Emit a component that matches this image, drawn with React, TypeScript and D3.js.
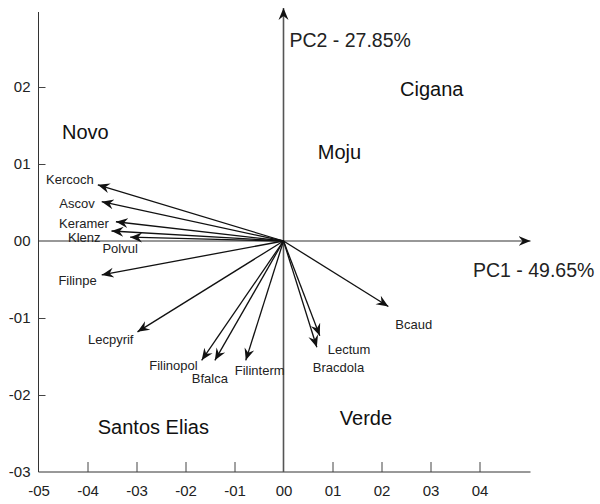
import { select, scaleLinear, axisBottom, axisLeft } from "d3";
import React, { useEffect, useRef } from "react";

const variables = [
  "Kercoch",
  "Ascov",
  "Keramer",
  "Klenz",
  "Polvul",
  "Filinpe",
  "Lecpyrif",
  "Filinopol",
  "Bfalca",
  "Filinterm",
  "Lectum",
  "Bracdola",
  "Bcaud",
];
const pc1Loadings = [-0.379, -0.371, -0.342, -0.351, -0.313, -0.371, -0.298, -0.167, -0.14, -0.077, 0.074, 0.068, 0.214];
const pc2Loadings = [0.073, 0.051, 0.025, 0.013, 0.005, -0.044, -0.118, -0.155, -0.155, -0.155, -0.123, -0.138, -0.085];

const groups = ["Cigana", "Novo", "Moju", "Santos Elias", "Verde"];
const groupX = [0.238, -0.452, 0.07, -0.379, 0.115];
const groupY = [0.198, 0.141, 0.115, -0.241, -0.23];

const xTicks = [-0.5, -0.4, -0.3, -0.2, -0.1, 0, 0.1, 0.2, 0.3, 0.4];
const xTickLabels = ["-05", "-04", "-03", "-02", "-01", "00", "01", "02", "03", "04"];
const yTicks = [-0.3, -0.2, -0.1, 0, 0.1, 0.2];
const yTickLabels = ["-03", "-02", "-01", "00", "01", "02"];

const pc1Label = "PC1 - 49.65%";
const pc2Label = "PC2 - 27.85%";

// label placement relative to arrow tip: [dx, dy, anchor]
const labelPlace: Record<string, [number, number, string]> = {
  Kercoch: [-4, -5, "end"],
  Ascov: [-7, 2, "end"],
  Keramer: [-7, 1.5, "end"],
  Klenz: [-11, 6, "end"],
  Polvul: [-10, 11, "middle"],
  Filinpe: [-5, 6, "end"],
  Lecpyrif: [-4, 8, "end"],
  Filinopol: [-4, 5, "end"],
  Bfalca: [-5, 18, "middle"],
  Filinterm: [-11, 10, "start"],
  Lectum: [8, 14, "start"],
  Bracdola: [-4, 20, "start"],
  Bcaud: [7, 18, "start"],
};

const W = 600;
const H = 504;
const font = "'Liberation Sans', Arial, sans-serif";

const App = () => {
  const svgRef = useRef<SVGSVGElement>(null);

  useEffect(() => {
    const svg = select(svgRef.current);
    svg.selectAll("*").remove();

    const x = scaleLinear().domain([-0.5, 0.5]).range([38.5, 528.5]);
    const y = scaleLinear().domain([-0.3, 0.3]).range([472, 10]);

    const defs = svg.append("defs");
    defs
      .append("marker")
      .attr("id", "arrowHead")
      .attr("viewBox", "-12 -6 14 12")
      .attr("refX", 0)
      .attr("refY", 0)
      .attr("markerWidth", 14)
      .attr("markerHeight", 12)
      .attr("markerUnits", "userSpaceOnUse")
      .attr("orient", "auto")
      .append("path")
      .attr("d", "M0,0 L-12,-5 L-8,0 L-12,5 Z")
      .attr("fill", "#111");

    // bottom axis
    const xAxis = axisBottom(x)
      .tickValues(xTicks)
      .tickSize(-10)
      .tickFormat((_, i) => xTickLabels[i]);
    svg
      .append("g")
      .attr("transform", `translate(0,${y(-0.3)})`)
      .call(xAxis)
      .call((g) => g.select(".domain").attr("d", `M${x(-0.5)},0H${x(0.5) + 2}`).attr("stroke", "#333"))
      .call((g) =>
        g
          .selectAll(".tick")
          .filter((d) => d === -0.5 || d === 0)
          .select("line")
          .remove(),
      )
      .call((g) => g.selectAll(".tick line").attr("stroke", "#444"))
      .call((g) =>
        g
          .selectAll(".tick text")
          .attr("y", 13)
          .attr("dy", "0.71em")
          .attr("font-size", 15)
          .attr("font-family", font)
          .attr("fill", "#222"),
      );

    // left axis
    const yAxis = axisLeft(y)
      .tickValues(yTicks)
      .tickSize(-7)
      .tickFormat((_, i) => yTickLabels[i]);
    svg
      .append("g")
      .attr("transform", `translate(${x(-0.5)},0)`)
      .call(yAxis)
      .call((g) => g.select(".domain").attr("d", `M0,${y(-0.3)}V12`).attr("stroke", "#333"))
      .call((g) =>
        g
          .selectAll(".tick")
          .filter((d) => d === -0.3 || d === 0)
          .select("line")
          .remove(),
      )
      .call((g) => g.selectAll(".tick line").attr("stroke", "#444"))
      .call((g) =>
        g
          .selectAll(".tick text")
          .attr("x", -8)
          .attr("font-size", 15)
          .attr("font-family", font)
          .attr("fill", "#222"),
      );

    // PC axes
    svg
      .append("line")
      .attr("x1", x(-0.5))
      .attr("x2", x(0.5) + 2)
      .attr("y1", y(0))
      .attr("y2", y(0))
      .attr("stroke", "#333")
      .attr("stroke-width", 1.2)
      .attr("marker-end", "url(#arrowHead)");
    svg
      .append("line")
      .attr("x1", x(0))
      .attr("x2", x(0))
      .attr("y1", y(-0.3))
      .attr("y2", 8)
      .attr("stroke", "#555")
      .attr("stroke-width", 1.6)
      .attr("marker-end", "url(#arrowHead)");

    svg
      .append("text")
      .attr("x", x(0) + 6)
      .attr("y", 40)
      .attr("dy", "0.35em")
      .attr("font-size", 19.5)
      .attr("font-family", font)
      .attr("fill", "#222")
      .text(pc2Label);
    svg
      .append("text")
      .attr("x", 473)
      .attr("y", 270)
      .attr("dy", "0.35em")
      .attr("font-size", 19.5)
      .attr("font-family", font)
      .attr("fill", "#222")
      .text(pc1Label);

    // loading arrows
    const arrows = variables.map((name, i) => ({ name, px: pc1Loadings[i], py: pc2Loadings[i] }));
    svg
      .append("g")
      .selectAll("line")
      .data(arrows)
      .join("line")
      .attr("x1", x(0))
      .attr("y1", y(0))
      .attr("x2", (d) => x(d.px))
      .attr("y2", (d) => y(d.py))
      .attr("stroke", "#111")
      .attr("stroke-width", 1.3)
      .attr("marker-end", "url(#arrowHead)");

    svg
      .append("g")
      .selectAll("text")
      .data(arrows)
      .join("text")
      .attr("x", (d) => x(d.px) + labelPlace[d.name][0])
      .attr("y", (d) => y(d.py) + labelPlace[d.name][1])
      .attr("dy", "0.35em")
      .attr("text-anchor", (d) => labelPlace[d.name][2])
      .attr("font-size", 13)
      .attr("font-family", font)
      .attr("fill", "#222")
      .text((d) => d.name);

    // group labels
    svg
      .append("g")
      .selectAll("text")
      .data(groups)
      .join("text")
      .attr("x", (_, i) => x(groupX[i]))
      .attr("y", (_, i) => y(groupY[i]))
      .attr("dy", "0.35em")
      .attr("font-size", 20)
      .attr("font-family", font)
      .attr("fill", "#111")
      .text((d) => d);
  }, []);

  return (
    <svg
      ref={svgRef}
      width={W}
      height={H}
      style={{ position: "absolute", left: 0, top: 0, background: "#fff" }}
    />
  );
};

export default App;
